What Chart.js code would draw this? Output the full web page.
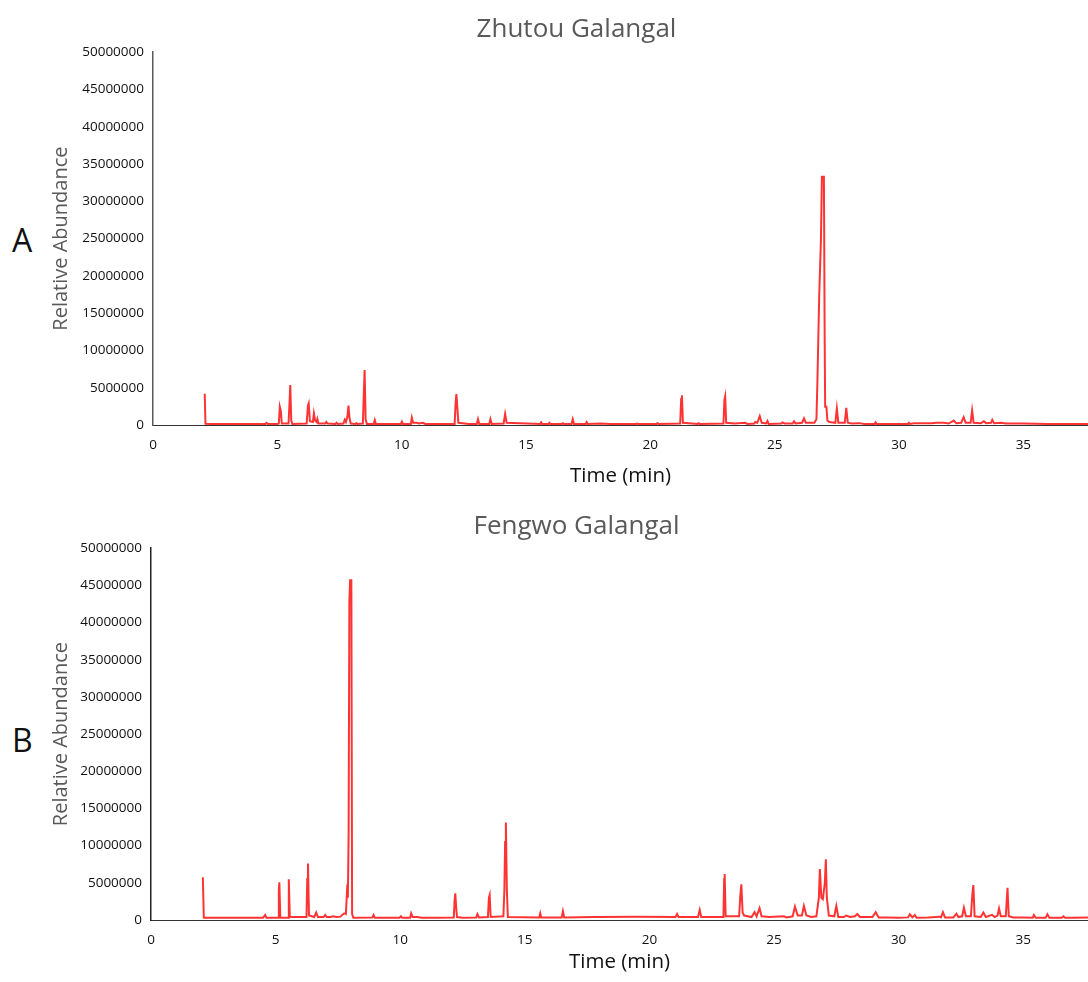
<!DOCTYPE html>
<html>
<head>
<meta charset="utf-8">
<script src="https://cdn.jsdelivr.net/npm/chart.js@4"></script>
<style>
  body { margin: 0; background: #fff; width: 1088px; height: 982px; position: relative; overflow: hidden; font-family: "Open Sans", sans-serif; }
  .panel { position: absolute; left: 0; }
  .tag { position: absolute; left: 12px; font-size: 32px; color: #111; }
</style>
</head>
<body>
<div class="tag" style="top: 218px;">A</div>
<div class="tag" style="top: 718px;">B</div>
<div class="panel" style="top: 0;"><canvas id="chartA" width="1088" height="495"></canvas></div>
<div class="panel" style="top: 495px;"><canvas id="chartB" width="1088" height="487"></canvas></div>
<script>
const titles = ['Zhutou Galangal', 'Fengwo Galangal'];
const yTicks = [0, 5000000, 10000000, 15000000, 20000000, 25000000, 30000000, 35000000, 40000000, 45000000, 50000000];
const xTicks = [0, 5, 10, 15, 20, 25, 30, 35];

// Zhutou chromatogram: retention time (min) and abundance
const timeA = [
  2.08, 2.11, 2.5, 3.5, 4.4, 4.52, 4.57, 4.62, 5.0, 5.06, 5.10, 5.14, 5.18, 5.45, 5.49, 5.52, 5.56, 5.6,
  6.18, 6.23, 6.26, 6.31, 6.43, 6.47, 6.52, 6.58, 6.61, 6.65, 6.93, 6.97, 7.02, 7.34, 7.38, 7.43,
  7.66, 7.71, 7.76, 7.82, 7.86, 7.9, 7.95, 8.14, 8.18, 8.22, 8.44, 8.48, 8.51, 8.55, 8.6, 8.88, 8.92, 8.96,
  9.97, 10.01, 10.05, 10.37, 10.41, 10.46, 10.6, 10.7, 10.85, 10.95, 12.13, 12.17, 12.2, 12.24, 12.28, 12.45, 12.7,
  13.02, 13.07, 13.12, 13.52, 13.57, 13.62, 14.1, 14.16, 14.22, 15.57, 15.61, 15.65, 15.9, 15.94, 15.98,
  16.44, 16.48, 16.52, 16.83, 16.88, 16.93, 17.4, 17.44, 17.48, 17.99, 18.39, 19.43, 19.47, 19.51,
  20.25, 20.29, 20.33, 21.2, 21.24, 21.27, 21.31, 21.9, 21.94, 21.98, 22.94, 22.98, 23.01, 23.05, 23.4,
  23.82, 23.9, 24.18, 24.22, 24.3, 24.4, 24.48, 24.66, 24.71, 24.76, 25.27, 25.31, 25.4, 25.72, 25.78, 25.84,
  26.1, 26.18, 26.25, 26.45, 26.6, 26.68, 26.72, 26.79, 26.86, 26.9, 26.98, 27.01, 27.03, 27.08, 27.12, 27.2,
  27.44, 27.5, 27.56, 27.82, 27.88, 27.94, 28.1, 28.4, 28.6, 29.02, 29.06, 29.1, 30.36, 30.4, 30.44, 30.6,
  31.3, 31.5, 31.8, 32.0, 32.2, 32.3, 32.5, 32.6, 32.68, 32.88, 32.94, 33.0, 33.3, 33.41, 33.5, 33.7, 33.75, 33.82,
  34.1, 34.3, 35.0, 36.0, 37.0, 37.6
];
const abundanceA = [
  4200000, 150000, 120000, 120000, 150000, 150000, 300000, 150000, 150000, 200000, 2450000, 1900000, 200000, 200000, 3000000, 5360000, 600000, 150000,
  200000, 2600000, 2900000, 500000, 400000, 1570000, 600000, 400000, 800000, 200000, 200000, 400000, 200000, 150000, 300000, 150000,
  200000, 700000, 400000, 1200000, 2600000, 1000000, 200000, 150000, 250000, 150000, 200000, 4500000, 7370000, 800000, 150000, 150000, 650000, 150000,
  150000, 450000, 150000, 150000, 1000000, 300000, 300000, 200000, 300000, 150000, 150000, 3000000, 4160000, 2300000, 300000, 250000, 150000,
  150000, 800000, 150000, 150000, 800000, 150000, 200000, 1470000, 300000, 150000, 350000, 150000, 150000, 300000, 150000,
  150000, 250000, 150000, 150000, 800000, 150000, 150000, 400000, 150000, 200000, 150000, 150000, 200000, 150000,
  150000, 250000, 150000, 200000, 3500000, 4000000, 300000, 150000, 250000, 150000, 200000, 3400000, 3850000, 300000, 200000,
  300000, 150000, 200000, 400000, 300000, 1200000, 300000, 200000, 550000, 150000, 200000, 350000, 200000, 200000, 500000, 200000,
  300000, 900000, 300000, 300000, 300000, 800000, 6000000, 17200000, 24800000, 33300000, 33300000, 12000000, 2450000, 2450000, 600000, 400000,
  300000, 2230000, 300000, 300000, 2300000, 300000, 200000, 250000, 150000, 150000, 350000, 150000, 150000, 300000, 150000, 220000,
  250000, 300000, 300000, 200000, 600000, 250000, 300000, 1050000, 300000, 300000, 1970000, 300000, 250000, 500000, 250000, 300000, 700000, 250000,
  300000, 200000, 200000, 150000, 150000, 150000
];

// Fengwo chromatogram
const timeB = [
  2.08, 2.12, 2.6, 3.5, 4.5, 4.58, 4.63, 5.1, 5.13, 5.15, 5.19, 5.5, 5.53, 5.57, 6.24, 6.27, 6.3, 6.34,
  6.55, 6.63, 6.7, 6.93, 6.99, 7.05, 7.2, 7.3, 7.45, 7.6, 7.75, 7.82, 7.88, 7.9, 7.93, 7.96, 7.99, 8.04, 8.07, 8.12,
  8.88, 8.93, 8.98, 9.97, 10.03, 10.08, 10.4, 10.44, 10.5, 10.7, 10.85, 11.5, 12.15, 12.18, 12.21, 12.25, 12.28, 12.5,
  13.05, 13.1, 13.16, 13.52, 13.56, 13.59, 13.63, 14.14, 14.18, 14.21, 14.24, 14.28, 14.32, 15.58, 15.62, 15.66,
  16.48, 16.53, 16.58, 17.78, 18.0, 19.46, 21.05, 21.11, 21.17, 21.3, 21.95, 22.02, 22.08, 22.97, 23.0, 23.02, 23.06,
  23.6, 23.65, 23.69, 23.74, 23.8, 24.1, 24.22, 24.3, 24.42, 24.5, 24.8, 25.4, 25.5, 25.75, 25.84, 25.95, 26.12, 26.2, 26.3,
  26.5, 26.7, 26.8, 26.84, 26.9, 26.96, 27.04, 27.08, 27.12, 27.2, 27.42, 27.5, 27.58, 27.8, 27.9, 28.05, 28.25, 28.34, 28.45,
  28.95, 29.08, 29.2, 29.5, 30.0, 30.38, 30.45, 30.55, 30.65, 30.72, 31.2, 31.63, 31.7, 31.78, 31.86, 32.2, 32.32, 32.4,
  32.55, 32.62, 32.7, 32.9, 32.96, 33.0, 33.05, 33.3, 33.4, 33.5, 33.75, 33.85, 33.97, 34.03, 34.1, 34.3, 34.37, 34.42,
  34.6, 35.0, 35.38, 35.43, 35.5, 35.9, 35.97, 36.05, 36.55, 36.61, 36.68, 37.0, 37.6
];
const abundanceB = [
  5740000, 300000, 300000, 300000, 300000, 670000, 300000, 300000, 4000000, 5060000, 300000, 300000, 5470000, 400000, 400000, 5500000, 7600000, 600000,
  400000, 1000000, 400000, 400000, 670000, 400000, 400000, 500000, 400000, 450000, 900000, 800000, 4800000, 3000000, 11600000, 42800000, 45700000, 45700000, 800000, 300000,
  350000, 670000, 300000, 300000, 500000, 300000, 300000, 900000, 400000, 400000, 300000, 300000, 350000, 2500000, 3580000, 1500000, 400000, 300000,
  350000, 800000, 350000, 400000, 3000000, 3360000, 400000, 500000, 4000000, 10500000, 13100000, 4000000, 400000, 350000, 900000, 350000,
  350000, 1200000, 350000, 400000, 400000, 450000, 400000, 800000, 400000, 400000, 400000, 1350000, 400000, 400000, 5500000, 6180000, 500000,
  500000, 3400000, 4800000, 1000000, 600000, 400000, 1070000, 500000, 1600000, 500000, 400000, 500000, 350000, 500000, 1800000, 600000, 600000, 1900000, 600000,
  400000, 500000, 3000000, 6850000, 3000000, 2800000, 5000000, 8150000, 3000000, 600000, 500000, 1900000, 400000, 400000, 600000, 400000, 500000, 800000, 400000,
  400000, 1050000, 350000, 350000, 300000, 350000, 760000, 350000, 670000, 300000, 350000, 450000, 350000, 1050000, 350000, 350000, 850000, 400000,
  500000, 1650000, 500000, 500000, 3500000, 4700000, 500000, 400000, 1000000, 400000, 700000, 400000, 600000, 1550000, 500000, 500000, 4340000, 500000,
  350000, 350000, 300000, 670000, 300000, 300000, 760000, 300000, 300000, 500000, 300000, 300000, 350000
];

function makeChart(id, title, times, values, o) {
  const points = times.map((t, i) => ({ x: t, y: values[i] }));
  return new Chart(document.getElementById(id), {
    type: 'line',
    data: {
      datasets: [{
        data: points,
        borderColor: 'rgba(255, 0, 0, 0.8)',
        borderWidth: 2,
        pointRadius: 0,
        tension: 0,
        fill: false
      }]
    },
    options: {
      responsive: false,
      animation: false,
      // extra left padding moves the centred title right; the y title is pulled back with a negative pad
      layout: { padding: { left: 65, right: 0, top: 0, bottom: 0 } },
      plugins: {
        legend: { display: false },
        tooltip: { enabled: false },
        title: {
          display: true,
          text: title,
          color: '#595959',
          font: { family: 'Open Sans', size: 26, weight: 'normal' },
          padding: { top: o.titleTop, bottom: o.titleBottom }
        }
      },
      scales: {
        x: {
          type: 'linear',
          min: 0,
          max: 37.6,
          afterBuildTicks: (scale) => { scale.ticks = xTicks.map(v => ({ value: v })); },
          afterFit: (scale) => { scale.height = o.xHeight; },
          ticks: {
            color: '#111',
            font: { family: 'Open Sans', size: 13.5 },
            padding: 12,
            maxRotation: 0,
            callback: (v) => String(v)
          },
          grid: { display: true, drawOnChartArea: false, drawTicks: false },
          border: { display: true, color: '#333', width: 1 },
          title: {
            display: true,
            text: 'Time (min)',
            color: '#111',
            font: { family: 'Open Sans', size: 20.5 },
            padding: { top: 4, bottom: o.xTitleBottom }
          }
        },
        y: {
          min: 0,
          max: 50000000,
          afterBuildTicks: (scale) => { scale.ticks = yTicks.map(v => ({ value: v })); },
          afterFit: (scale) => { scale.width = o.yWidth; },
          ticks: {
            color: '#111',
            font: { family: 'Open Sans', size: 13.5 },
            padding: 9,
            callback: (v) => String(v)
          },
          grid: { display: true, drawOnChartArea: false, drawTicks: false },
          border: { display: true, color: o.yAxisColor, width: 1.5 },
          title: {
            display: true,
            text: 'Relative Abundance',
            color: '#595959',
            font: { family: 'Open Sans', size: 20 },
            padding: { top: -16, bottom: 4 }
          }
        }
      }
    }
  });
}

makeChart('chartA', titles[0], timeA, abundanceA,
  { titleTop: 14, titleBottom: 7, xHeight: 70, xTitleBottom: 7, yWidth: 88, yAxisColor: '#5a5a5a' });
makeChart('chartB', titles[1], timeB, abundanceB,
  { titleTop: 16, titleBottom: 6, xHeight: 62, xTitleBottom: 8, yWidth: 86, yAxisColor: '#222' });
</script>
</body>
</html>
